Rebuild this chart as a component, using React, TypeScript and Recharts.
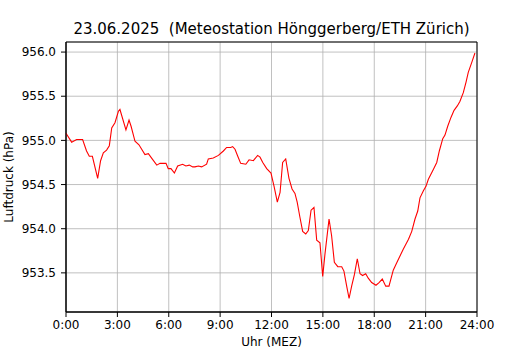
import React from 'react';
import { LineChart, Line, XAxis, YAxis, CartesianGrid, ReferenceArea, Label } from 'recharts';

// time of day in hours
const hours = [
  0.0, 0.33, 0.62, 0.97, 1.2, 1.36, 1.54, 1.85, 2.02, 2.18, 2.37, 2.53, 2.67, 2.86, 3.06, 3.15,
  3.5, 3.68, 3.8, 4.03, 4.26, 4.61, 4.81, 5.0, 5.3, 5.49, 5.84, 5.97, 6.13, 6.33, 6.52, 6.81,
  7.0, 7.2, 7.4, 7.53, 7.73, 7.92, 8.21, 8.31, 8.6, 8.9, 9.19, 9.38, 9.62, 9.73, 9.87, 10.03,
  10.2, 10.5, 10.69, 10.94, 11.19, 11.33, 11.49, 11.72, 11.97, 12.15, 12.34, 12.5, 12.65, 12.83,
  13.02, 13.2, 13.37, 13.5, 13.66, 13.82, 14.0, 14.15, 14.31, 14.48, 14.64, 14.83, 14.99, 15.12,
  15.36, 15.51, 15.67, 15.87, 16.1, 16.23, 16.39, 16.53, 16.68, 16.84, 17.01, 17.17, 17.32, 17.5,
  17.65, 17.85, 18.1, 18.28, 18.47, 18.67, 18.86, 19.11, 19.3, 19.7, 20.0, 20.19, 20.38, 20.54,
  20.67, 20.87, 21.02, 21.16, 21.45, 21.65, 21.8, 22.0, 22.13, 22.29, 22.48, 22.66, 22.85, 23.0,
  23.2, 23.36, 23.49, 23.69, 23.88,
];

// air pressure in hPa
const pressure = [
  955.08, 954.98, 955.01, 955.01, 954.88, 954.82, 954.82, 954.57, 954.77, 954.86, 954.89, 954.94,
  955.14, 955.2, 955.33, 955.35, 955.12, 955.23, 955.16, 954.99, 954.95, 954.84, 954.85, 954.8,
  954.72, 954.74, 954.74, 954.68, 954.68, 954.63, 954.71, 954.73, 954.71, 954.72, 954.7, 954.7,
  954.71, 954.7, 954.73, 954.79, 954.8, 954.83, 954.88, 954.92, 954.92, 954.93, 954.9, 954.82,
  954.74, 954.73, 954.78, 954.77, 954.83, 954.81, 954.75, 954.68, 954.63, 954.48, 954.3, 954.41,
  954.75, 954.79, 954.57, 954.45, 954.4, 954.3, 954.13, 953.97, 953.94, 953.98, 954.21, 954.24,
  953.87, 953.84, 953.46, 953.71, 954.11, 953.92, 953.62, 953.57, 953.57, 953.52, 953.35, 953.21,
  953.35, 953.48, 953.66, 953.49, 953.47, 953.49, 953.44, 953.39, 953.36, 953.39, 953.43, 953.35,
  953.35, 953.53, 953.61, 953.77, 953.88, 953.97, 954.11, 954.2, 954.35, 954.43, 954.48, 954.56,
  954.67, 954.75, 954.88, 955.02, 955.06, 955.16, 955.26, 955.34, 955.39, 955.44, 955.54, 955.66,
  955.77, 955.88, 955.99,
];

const xTicks = [0, 3, 6, 9, 12, 15, 18, 21, 24];
const yTicks = [953.5, 954.0, 954.5, 955.0, 955.5, 956.0];
const Y_MIN = 953.057;
const Y_MAX = 956.114;

const data = hours.map((t, i) => ({ t, p: pressure[i] }));

const font = "'DejaVu Sans', sans-serif";
const tickStyle = { fontSize: 12, fill: '#000', fontFamily: font };

export default function App() {
  return (
    <div style={{ position: 'absolute', left: 0, top: 0, width: 530, height: 350, background: '#fff' }}>
      <div
        style={{
          position: 'absolute',
          left: 66,
          top: 21,
          width: 411,
          textAlign: 'center',
          fontFamily: font,
          fontSize: 15,
          lineHeight: '16px',
          color: '#000',
          whiteSpace: 'pre',
        }}
      >
        {'23.06.2025  (Meteostation Hönggerberg/ETH Zürich)'}
      </div>
      <LineChart width={530} height={350} data={data} margin={{ top: 42, right: 53, bottom: 0, left: 0 }}>
        <CartesianGrid stroke="#b0b0b0" strokeWidth={0.8} />
        <XAxis
          dataKey="t"
          type="number"
          domain={[0, 24]}
          ticks={xTicks}
          tickFormatter={(v: number) => `${v}:00`}
          height={38}
          tickSize={5}
          tickMargin={3}
          tick={tickStyle}
          axisLine={{ stroke: '#000' }}
          tickLine={{ stroke: '#000' }}
          interval={0}
        >
          <Label value="Uhr (MEZ)" position="insideBottom" offset={4} style={tickStyle} />
        </XAxis>
        <YAxis
          type="number"
          domain={[Y_MIN, Y_MAX]}
          ticks={yTicks}
          tickFormatter={(v: number) => v.toFixed(1)}
          width={66}
          tickSize={5}
          tickMargin={5}
          tick={tickStyle}
          axisLine={{ stroke: '#000' }}
          tickLine={{ stroke: '#000' }}
          allowDataOverflow
          interval={0}
        >
          <Label
            content={() => (
              <text
                transform="translate(12.5,177) rotate(-90)"
                textAnchor="middle"
                fontSize={12}
                fontFamily={font}
                fill="#000"
              >
                Luftdruck (hPa)
              </text>
            )}
          />
        </YAxis>
        <Line
          type="linear"
          dataKey="p"
          stroke="#ff0000"
          strokeWidth={1.1}
          dot={false}
          isAnimationActive={false}
        />
        <ReferenceArea x1={0} x2={24} y1={Y_MIN} y2={Y_MAX} fill="none" stroke="#000" strokeWidth={1} />
      </LineChart>
    </div>
  );
}
